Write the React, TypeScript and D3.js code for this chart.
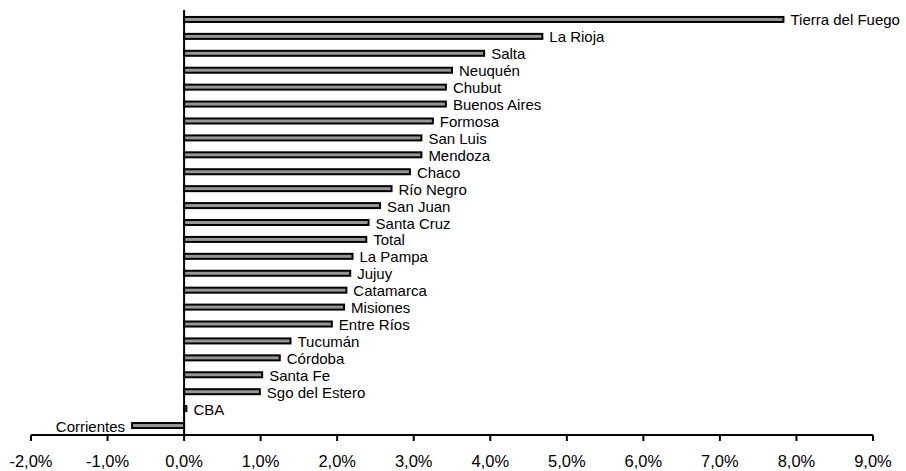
import React, { useEffect, useRef } from 'react';
import * as d3 from 'd3';

// provinces, top to bottom
const provinces = [
  'Tierra del Fuego', 'La Rioja', 'Salta', 'Neuquén', 'Chubut', 'Buenos Aires',
  'Formosa', 'San Luis', 'Mendoza', 'Chaco', 'Río Negro', 'San Juan', 'Santa Cruz',
  'Total', 'La Pampa', 'Jujuy', 'Catamarca', 'Misiones', 'Entre Ríos', 'Tucumán',
  'Córdoba', 'Santa Fe', 'Sgo del Estero', 'CBA', 'Corrientes',
];

// growth rate, %
const growth = [
  7.83, 4.68, 3.92, 3.5, 3.42, 3.42,
  3.25, 3.1, 3.1, 2.95, 2.71, 2.56, 2.41,
  2.38, 2.2, 2.17, 2.12, 2.09, 1.93, 1.39,
  1.25, 1.02, 0.99, 0.03, -0.68,
];

const xTicks = [-2, -1, 0, 1, 2, 3, 4, 5, 6, 7, 8, 9];

const W = 906;
const H = 471;

const App: React.FC = () => {
  const svgRef = useRef<SVGSVGElement | null>(null);

  useEffect(() => {
    if (!svgRef.current) return;
    const svg = d3.select(svgRef.current);
    svg.selectAll('*').remove();

    const data = provinces.map((p, i) => ({ name: p, value: growth[i] }));

    const x = d3.scaleLinear().domain([-2, 9]).range([31, 873]);
    const y = d3.scaleBand<string>()
      .domain(provinces)
      .range([11, 434])
      .paddingInner(0)
      .paddingOuter(0);

    const axisY = 435;
    const barH = 5;
    const font = 'Arial, "Liberation Sans", sans-serif';

    // bars
    svg.append('g')
      .selectAll('rect')
      .data(data)
      .enter()
      .append('rect')
      .attr('x', d => x(Math.min(0, d.value)))
      .attr('y', d => (y(d.name) as number) + y.bandwidth() / 2 - barH / 2)
      .attr('width', d => Math.abs(x(d.value) - x(0)))
      .attr('height', barH)
      .attr('fill', '#969696')
      .attr('stroke', '#000')
      .attr('stroke-width', 2);

    // labels next to bar ends
    svg.append('g')
      .selectAll('text')
      .data(data)
      .enter()
      .append('text')
      .attr('x', d => d.value >= 0 ? x(d.value) + 7 : x(d.value) - 7)
      .attr('y', d => (y(d.name) as number) + y.bandwidth() / 2 + 6)
      .attr('text-anchor', d => d.value >= 0 ? 'start' : 'end')
      .style('font-family', font)
      .style('font-size', '15px')
      .attr('fill', '#000')
      .text(d => d.name);

    // vertical zero line
    svg.append('line')
      .attr('x1', x(0)).attr('x2', x(0))
      .attr('y1', 10).attr('y2', axisY)
      .attr('stroke', '#000')
      .attr('stroke-width', 2);

    // x axis
    const ax = svg.append('g');
    ax.append('line')
      .attr('x1', x(-2)).attr('x2', x(9))
      .attr('y1', axisY).attr('y2', axisY)
      .attr('stroke', '#000')
      .attr('stroke-width', 2);
    ax.selectAll('line.tick')
      .data(xTicks)
      .enter()
      .append('line')
      .attr('class', 'tick')
      .attr('x1', d => x(d)).attr('x2', d => x(d))
      .attr('y1', axisY).attr('y2', axisY + 6)
      .attr('stroke', '#000')
      .attr('stroke-width', 2);
    ax.selectAll('text')
      .data(xTicks)
      .enter()
      .append('text')
      .attr('x', d => x(d))
      .attr('y', 467)
      .attr('text-anchor', 'middle')
      .style('font-family', font)
      .style('font-size', '16.5px')
      .attr('fill', '#000')
      .text(d => d.toFixed(1).replace('.', ',') + '%');
  }, []);

  return (
    <svg
      ref={svgRef}
      width={W}
      height={H}
      style={{ position: 'absolute', left: 0, top: 0, background: '#fff' }}
    />
  );
};

export default App;
